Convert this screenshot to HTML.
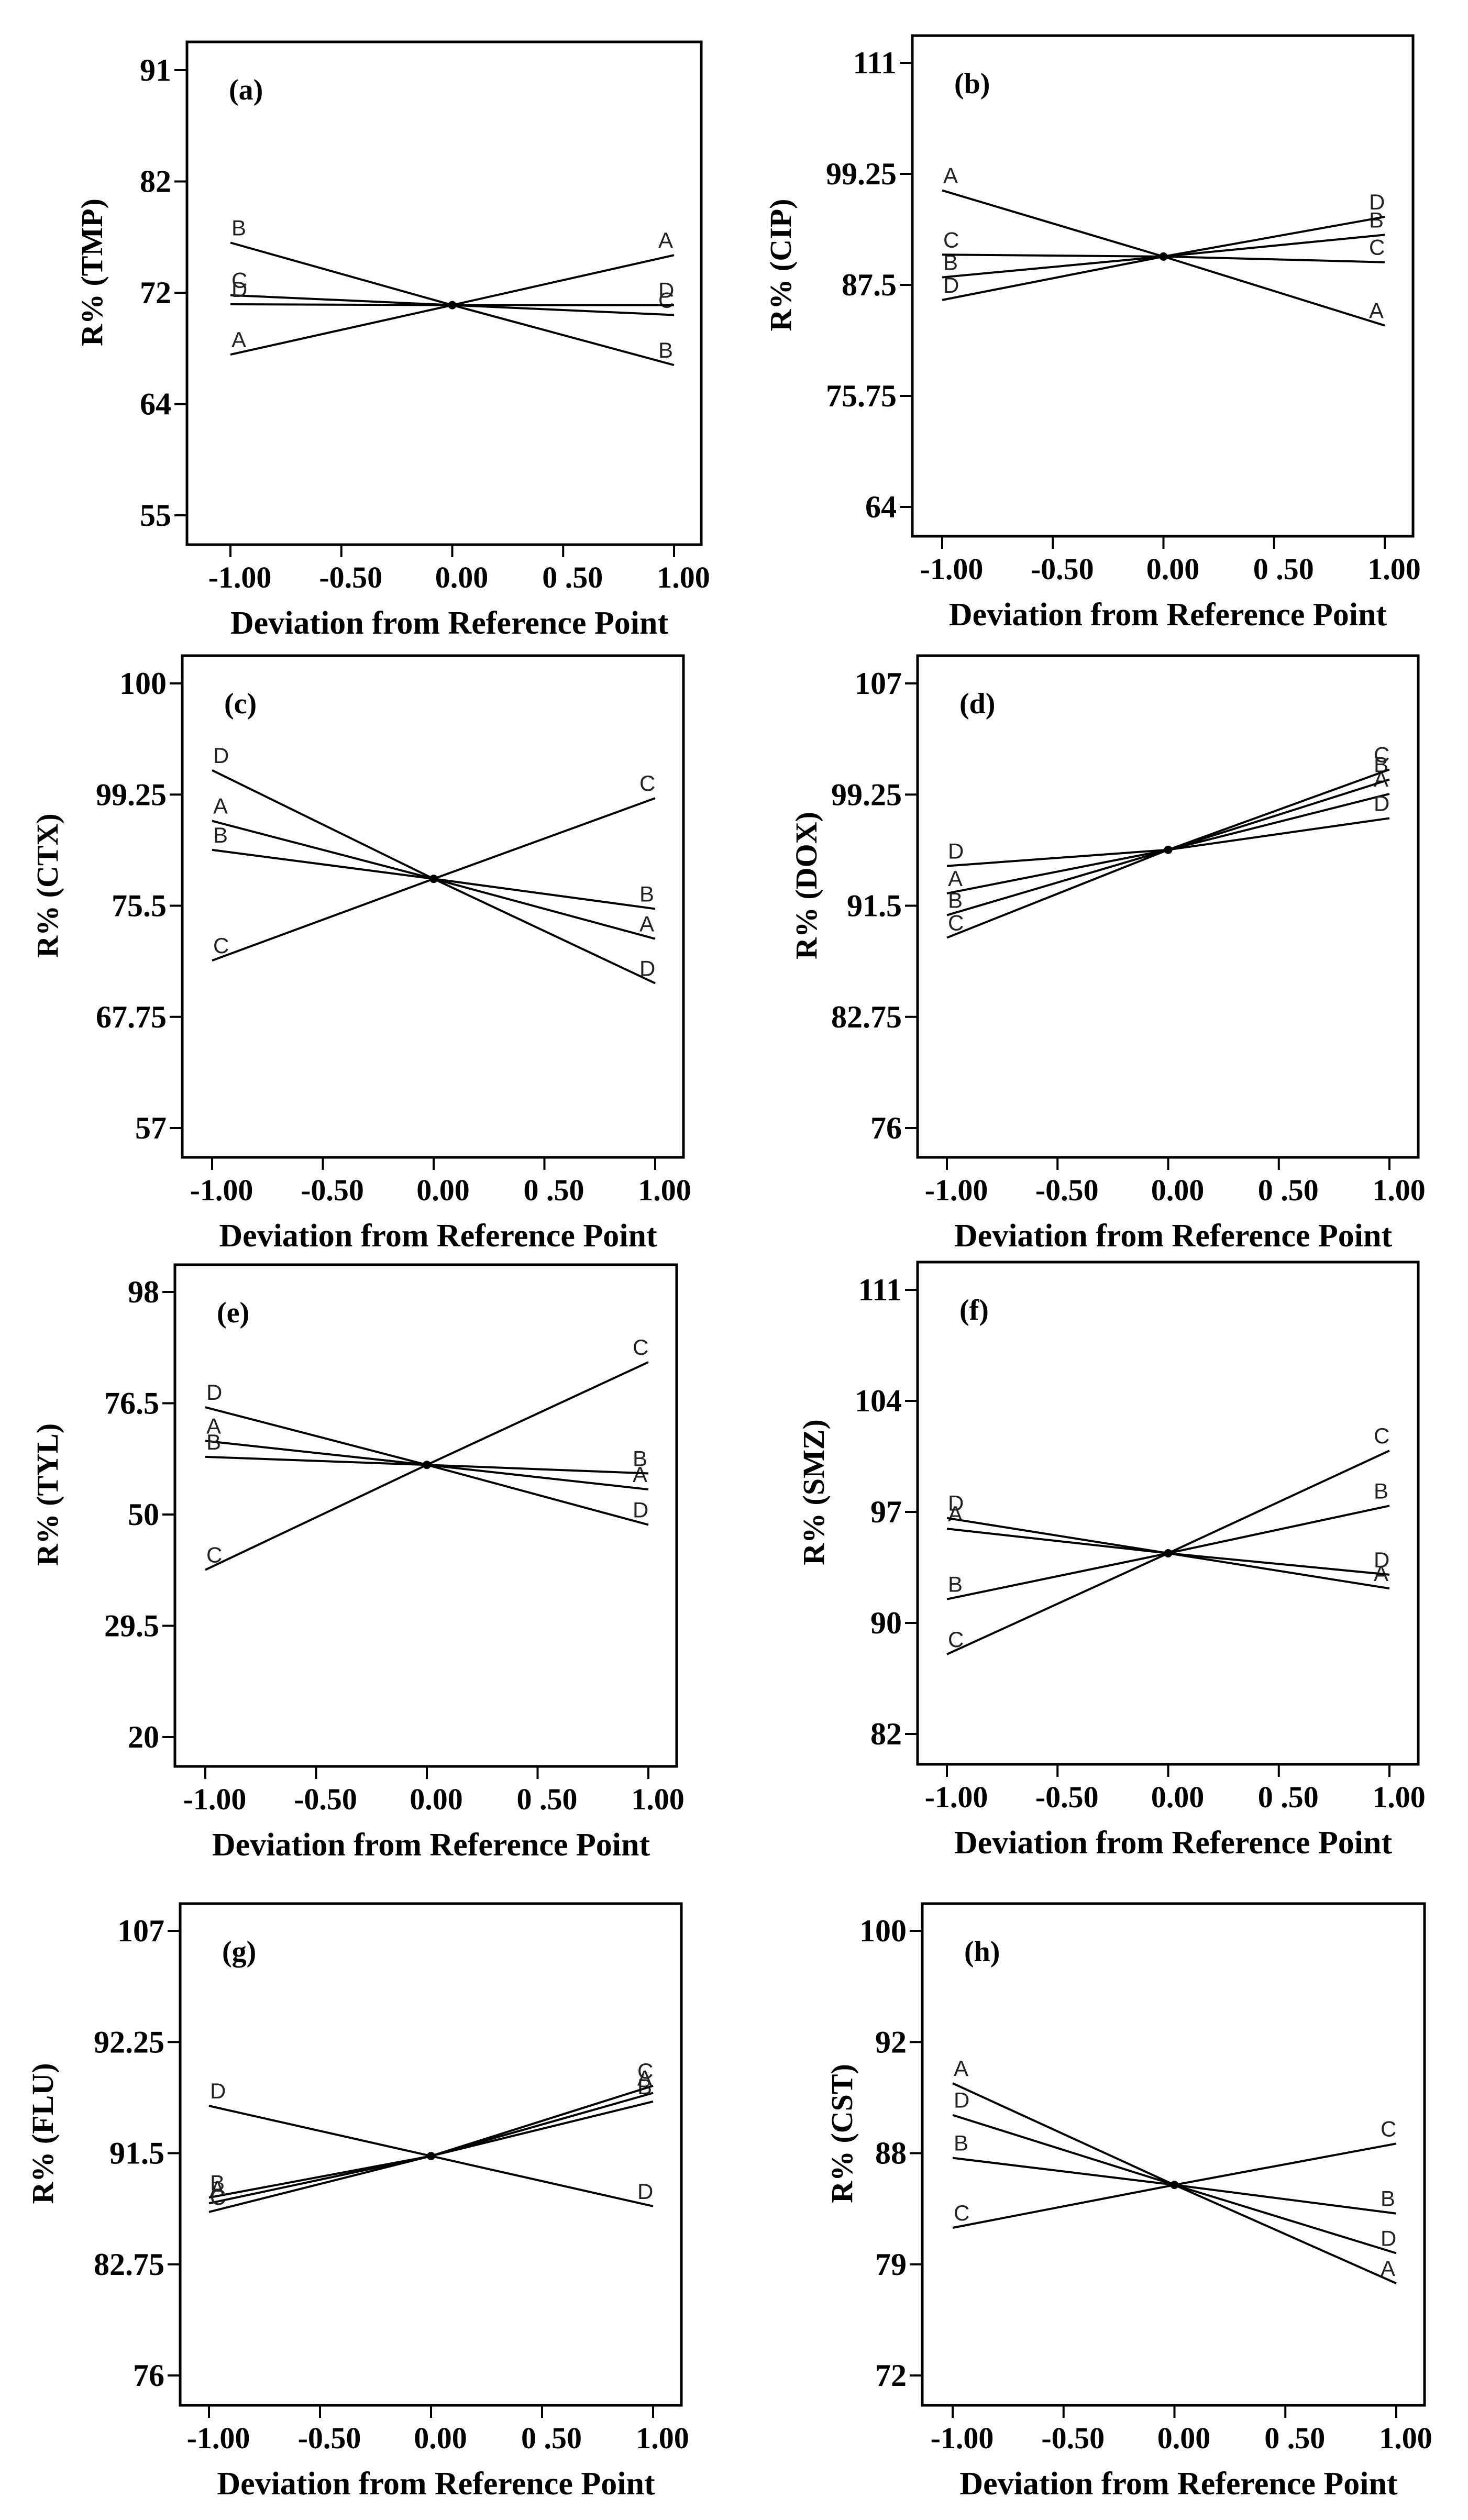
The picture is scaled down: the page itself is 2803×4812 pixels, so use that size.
<!DOCTYPE html>
<html><head><meta charset="utf-8"><style>
html,body{margin:0;padding:0;background:#fff;}
svg{display:block;}
</style></head><body>
<svg id="fig" width="2803" height="4812" viewBox="0 0 2803 4812" xmlns="http://www.w3.org/2000/svg"></svg>
<script>
// shared
const factorNames = ['A','B','C','D'];
const xTickValues = [-1, -0.5, 0, 0.5, 1];
const xTickLabels = ['-1.00','-0.50','0.00','0 .50','1.00'];
const xLevels = [-1, 0, 1];

// (a) TMP
const aTicks = ['91','82','72','64','55'];
const aLow  = [68.0, 77.05, 72.8, 72.07];
const aMid  = [72.0, 72.0, 72.0, 72.0];
const aHigh = [76.04, 67.15, 71.2, 72.0];
// (b) CIP
const bTicks = ['111','99.25','87.5','75.75','64'];
const bLow  = [97.5, 88.3, 90.7, 85.9];
const bMid  = [90.5, 90.5, 90.5, 90.5];
const bHigh = [83.2, 92.8, 89.9, 94.7];
// (c) CTX
const cTicks = ['100','99.25','75.5','67.75','57'];
const cLow  = [86.7, 83.9, 73.2, 91.6];
const cMid  = [81.1, 81.1, 81.1, 81.1];
const cHigh = [75.3, 78.2, 88.9, 71.0];
// (d) DOX
const dTicks = ['107','99.25','91.5','82.75','76'];
const dLow  = [92.36, 90.84, 89.27, 94.27];
const dMid  = [95.4, 95.4, 95.4, 95.4];
const dHigh = [99.3, 100.3, 101.0, 97.6];
// (e) TYL
const eTicks = ['98','76.5','50','29.5','20'];
const eLow  = [71.9, 69.1, 49.3, 77.8];
const eMid  = [67.7, 67.7, 67.7, 67.7];
const eHigh = [63.4, 66.2, 85.7, 57.2];
// (f) SMZ
const fTicks = ['111','104','97','90','82'];
const fLow  = [95.4, 90.8, 87.2, 96.1];
const fMid  = [93.8, 93.8, 93.8, 93.8];
const fHigh = [91.5, 96.9, 100.5, 92.4];
// (g) FLU
const gTicks = ['107','92.25','91.5','82.75','76'];
const gLow  = [88.0, 88.4, 87.4, 94.8];
const gMid  = [91.3, 91.3, 91.3, 91.3];
const gHigh = [95.7, 95.1, 96.2, 87.8];
// (h) CST
const hTicks = ['100','92','88','79','72'];
const hLow  = [90.4, 85.7, 81.3, 88.4];
const hMid  = [84.0, 84.0, 84.0, 84.0];
const hHigh = [77.8, 82.2, 86.6, 79.7];

const panels = [
 {id:'a', yl:'R% (TMP)', box:[357,80,1339,1040], yT:134, yB:984, xL:440, xR:1287, hi:91, lo:55, ticks:aTicks, low:aLow, mid:aMid, high:aHigh, ylx:175},
 {id:'b', yl:'R% (CIP)', box:[1742,68,2698,1024], yT:120, yB:968, xL:1799, xR:2644, hi:111, lo:64, ticks:bTicks, low:bLow, mid:bMid, high:bHigh, ylx:1490},
 {id:'c', yl:'R% (CTX)', box:[348,1252,1305,2210], yT:1305, yB:2154, xL:405, xR:1251, hi:100, lo:57, ticks:cTicks, low:cLow, mid:cMid, high:cHigh, ylx:90},
 {id:'d', yl:'R% (DOX)', box:[1752,1252,2708,2210], yT:1305, yB:2154, xL:1808, xR:2653, hi:107, lo:76, ticks:dTicks, low:dLow, mid:dMid, high:dHigh, ylx:1539},
 {id:'e', yl:'R% (TYL)', box:[334,2415,1292,3373], yT:2467, yB:3317, xL:392, xR:1238, hi:98, lo:20, ticks:eTicks, low:eLow, mid:eMid, high:eHigh, ylx:90},
 {id:'f', yl:'R% (SMZ)', box:[1752,2410,2708,3369], yT:2463, yB:3311, xL:1808, xR:2653, hi:111, lo:82, ticks:fTicks, low:fLow, mid:fMid, high:fHigh, ylx:1553},
 {id:'g', yl:'R% (FLU)', box:[344,3635,1301,4593], yT:3687, yB:4536, xL:399, xR:1247, hi:107, lo:76, ticks:gTicks, low:gLow, mid:gMid, high:gHigh, ylx:81},
 {id:'h', yl:'R% (CST)', box:[1761,3635,2720,4593], yT:3687, yB:4536, xL:1819, xR:2666, hi:100, lo:72, ticks:hTicks, low:hLow, mid:hMid, high:hHigh, ylx:1607}
];

const NS='http://www.w3.org/2000/svg';
const svg=document.getElementById('fig');
function mk(tag, attrs, parent){
  const el=document.createElementNS(NS,tag);
  for(const k in attrs) el.setAttribute(k, attrs[k]);
  (parent||svg).appendChild(el);
  return el;
}

panels.forEach(p=>{
  const g=mk('g',{});
  
  
  const [l,t,r,b]=p.box;
  const xs=v=>p.xL+(v+1)/2*(p.xR-p.xL);
  const ys=v=>p.yB-(v-p.lo)/(p.hi-p.lo)*(p.yB-p.yT);
  const frame=mk('rect',{x:l,y:t,width:r-l,height:b-t,fill:'none',stroke:'#000','stroke-width':5},g);
  
  
  p.ticks.forEach((lab,i)=>{
    const y=p.yT+i*(p.yB-p.yT)/(p.ticks.length-1);
    const tk=mk('line',{x1:l-24,x2:l,y1:y,y2:y,stroke:'#000','stroke-width':4},g);
    
    
    const tx=mk('text',{x:l-30,y:y+20,'text-anchor':'end','font-family':'Liberation Serif, serif','font-size':60,'font-weight':'bold'},g);
    tx.textContent=lab;
    
    
  });
  xTickValues.forEach((v,i)=>{
    const x=xs(v);
    const tk=mk('line',{x1:x,x2:x,y1:b,y2:b+24,stroke:'#000','stroke-width':4},g);
    
    
    const tx=mk('text',{x:x+18,y:b+82,'text-anchor':'middle','font-family':'Liberation Serif, serif','font-size':58,'font-weight':'bold'},g);
    tx.textContent=xTickLabels[i];
    
    
  });
  const xt=mk('text',{x:(l+r)/2+10,y:b+170,'text-anchor':'middle','font-family':'Liberation Serif, serif','font-size':62,'font-weight':'bold'},g);
  xt.textContent='Deviation from Reference Point';
  
  
  const cy=(t+b)/2-40;
  const yt=mk('text',{x:p.ylx,y:cy,'text-anchor':'middle','font-family':'Liberation Serif, serif','font-size':58,'font-weight':'bold',transform:'rotate(-90 '+p.ylx+' '+cy+') translate(0 20)'},g);
  yt.textContent=p.yl;
  
  
  const tag=mk('text',{x:l+80,y:t+110,'font-family':'Liberation Serif, serif','font-size':56,'font-weight':'bold'},g);
  tag.textContent='('+p.id+')';
  
  
  factorNames.forEach((f,i)=>{
    const vals=[p.low[i],p.mid[i],p.high[i]];
    const pts=xLevels.map((x,j)=>xs(x)+','+ys(vals[j])).join(' ');
    const pl=mk('polyline',{points:pts,fill:'none',stroke:'#000','stroke-width':4},g);
    
    
    const l1=mk('text',{x:xs(-1)+2,y:ys(vals[0])-14,'font-family':'Liberation Sans, sans-serif','font-size':42,fill:'#222'},g);
    l1.textContent=f;
    
    
    const l2=mk('text',{x:xs(1)-30,y:ys(vals[2])-14,'font-family':'Liberation Sans, sans-serif','font-size':42,fill:'#222'},g);
    l2.textContent=f;
    
    
  });
  const dot=mk('circle',{cx:xs(0),cy:ys(p.mid[0]),r:8,fill:'#000'},g);
  
  
});
</script>
</body></html>
